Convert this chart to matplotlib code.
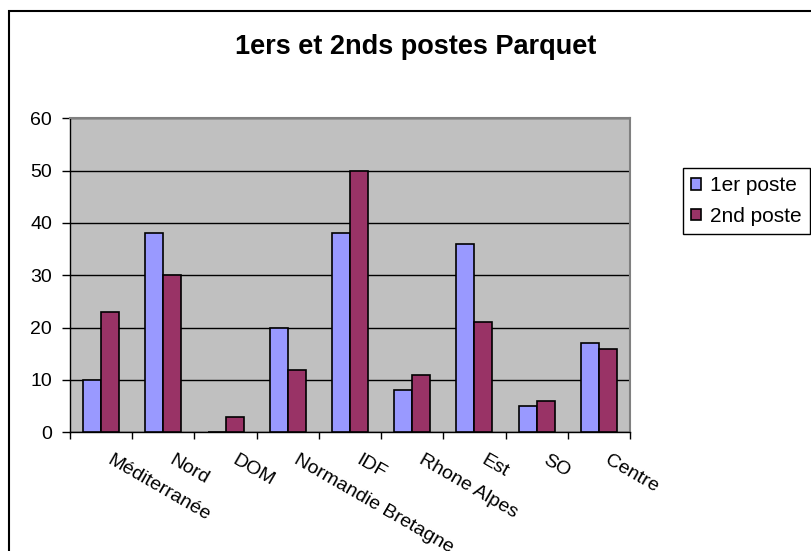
import numpy as np
import matplotlib.pyplot as plt
from matplotlib.patches import Rectangle
from matplotlib.transforms import ScaledTranslation

plt.rcParams['font.family'] = ['Liberation Sans', 'DejaVu Sans']

categories = ['Méditerranée', 'Nord', 'DOM', 'Normandie Bretagne', 'IDF',
              'Rhone Alpes', 'Est', 'SO', 'Centre']
premier = [10, 38, 0, 20, 38, 8, 36, 5, 17]
second = [23, 30, 3, 12, 50, 11, 21, 6, 16]
series_names = ['1er poste', '2nd poste']
yticks = [0, 10, 20, 30, 40, 50, 60]

fig = plt.figure(figsize=(8.11, 5.51), dpi=100)
ax = fig.add_axes([70/811, 1 - 432.3/551, 560/811, 314/551])
ax.set_facecolor('#C0C0C0')

x = np.arange(len(categories))
w = 0.29
ax.bar(x - w/2, premier, w, color='#9999FF', edgecolor='black', linewidth=1.2,
       label=series_names[0], zorder=3)
ax.bar(x + w/2, second, w, color='#993366', edgecolor='black', linewidth=1.2,
       label=series_names[1], zorder=3)

ax.set_xlim(-0.5, len(categories) - 0.5)
ax.set_ylim(0, 60)
ax.set_yticks(yticks)
ax.tick_params(axis='y', labelsize=14, length=6, width=1, pad=7, direction='out')
ax.yaxis.grid(True, color='black', linewidth=1, zorder=1)
ax.set_axisbelow(True)

# category boundary ticks
ax.set_xticks(np.arange(len(categories) + 1) - 0.5, minor=True)
ax.tick_params(axis='x', which='minor', length=5, width=1, direction='out')
ax.set_xticks(x)
ax.tick_params(axis='x', which='major', length=0, pad=14)
labels = ax.set_xticklabels(categories, rotation=-30, ha='left', va='top',
                            rotation_mode='anchor', fontsize=14)
for lab in labels:
    lab.set_transform(lab.get_transform() + ScaledTranslation(0.12, 0, fig.dpi_scale_trans))

for s in ['top', 'right']:
    ax.spines[s].set_color('#808080')
    ax.spines[s].set_linewidth(1.5)
for s in ['left', 'bottom']:
    ax.spines[s].set_color('black')
    ax.spines[s].set_linewidth(1)

fig.text(416/811, 1 - 47/551, '1ers et 2nds postes Parquet', ha='center', va='center',
         fontsize=19.5, fontweight='bold')

leg = ax.legend(loc='upper left', bbox_to_anchor=(683/811, 1 - 168/551),
                bbox_transform=fig.transFigure, fontsize=15, frameon=True,
                fancybox=False, edgecolor='black', framealpha=1,
                handlelength=0.45, handleheight=0.45, handletextpad=0.45,
                borderpad=0.4, labelspacing=0.55, borderaxespad=0)
leg.get_frame().set_linewidth(1)

fig.patches.append(Rectangle((9/811, -0.1), 1.2, 1.1 - 11/551, transform=fig.transFigure,
                             fill=False, edgecolor='black', linewidth=1.5))

fig.savefig('out.png', dpi=100)
